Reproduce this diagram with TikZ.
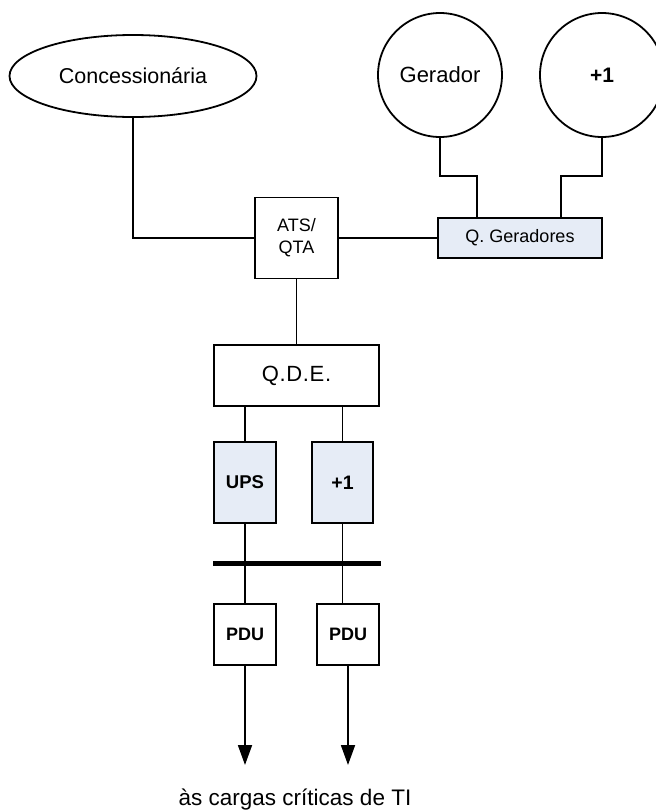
\documentclass[tikz,border=0pt]{standalone}
\usepackage{fontspec}
\setmainfont{Liberation Sans}
\usetikzlibrary{shapes.geometric,arrows.meta}
\definecolor{boxfill}{HTML}{E6ECF6}

\begin{document}
\begin{tikzpicture}[x=1pt, y=-1pt, line width=1.8pt,
    box/.style={draw, rectangle, inner sep=0pt, font=\fontsize{18}{21}\selectfont, align=center},
    bluebox/.style={box, fill=boxfill},
    source/.style={draw, circle, inner sep=0pt, minimum size=124pt, font=\fontsize{22}{26}\selectfont}]
  \useasboundingbox (0,0) rectangle (656,812);

  % Supply side
  \node[draw, ellipse, inner sep=0pt, minimum width=247pt, minimum height=82pt,
        font=\fontsize{21.5}{25}\selectfont] (conc) at (133,76) {Concession\'aria};
  \node[source] (ger) at (440,75) {Gerador};
  \node[source, font=\fontsize{21}{25}\selectfont\bfseries] (gerx) at (602,75) {+1};

  % Switching
  \node[bluebox, minimum width=164pt, minimum height=40pt] (qger) at (520,238) {Q. Geradores};
  \node[box, minimum width=83pt, minimum height=81pt, font=\fontsize{18}{22}\selectfont] (ats) at (296.5,238) {ATS/\\QTA};
  \node[box, minimum width=165pt, minimum height=61pt,
        font=\fontsize{22}{26}\selectfont\addfontfeature{LetterSpace=3}] (qde) at (296.5,375.5) {Q.D.E.};

  % UPS pair
  \node[bluebox, minimum width=62pt, minimum height=81pt, font=\fontsize{18.5}{21}\selectfont\bfseries] (ups) at (245,482.5) {UPS};
  \node[bluebox, minimum width=61pt, minimum height=81pt, font=\fontsize{19.5}{22}\selectfont\bfseries] (upsx) at (342.5,482.5) {+1};

  % Bus bar
  \coordinate (barl) at (213,563);
  \coordinate (barr) at (381,563);
  \draw[line width=5pt] (barl) -- (barr);

  % PDUs
  \node[box, minimum width=62pt, minimum height=61pt, font=\fontsize{18}{21}\selectfont\bfseries] (pdua) at (245,634.5) {PDU};
  \node[box, minimum width=62pt, minimum height=61pt, font=\fontsize{18}{21}\selectfont\bfseries] (pdub) at (348,634.5) {PDU};
  \coordinate (tipa) at (245,765);
  \coordinate (tipb) at (348,765);

  \node[font=\fontsize{22.5}{26}\selectfont] (load) at (295,800) {\`as cargas cr\'iticas de TI};

  % Wiring
  \draw (conc.south) |- (ats.west);
  \draw (ats.east) -- (qger.west);
  \draw (ger.south) -- ++(0,38) -| ([xshift=40pt]qger.north west);
  \draw (gerx.south) -- ++(0,38) -| ([xshift=-42pt]qger.north east);
  \draw (ats.south) -- (qde.north);
  \draw (ups.north |- qde.south) -- (ups.north);
  \draw (upsx.north |- qde.south) -- (upsx.north);
  \draw (ups.south) -- (pdua.north);
  \draw (upsx.south) -- (upsx.south |- pdub.north);
  \draw[-{Triangle[width=14pt,length=20pt]}] (pdua.south) -- (tipa);
  \draw[-{Triangle[width=14pt,length=20pt]}] (pdub.south) -- (tipb);
\end{tikzpicture}
\end{document}
